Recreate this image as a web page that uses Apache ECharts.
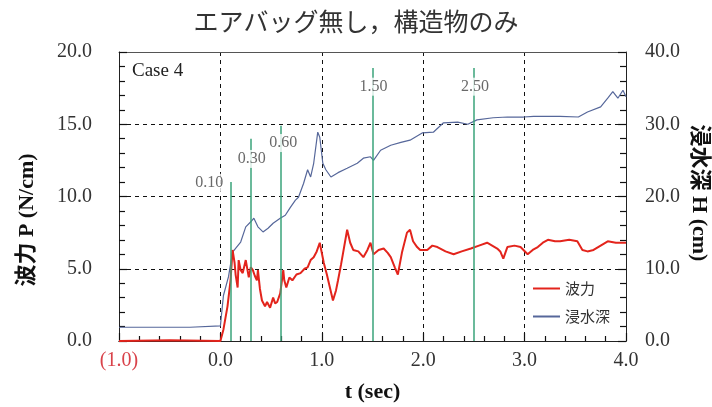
<!DOCTYPE html>
<html>
<head>
<meta charset="utf-8">
<script src="https://cdn.jsdelivr.net/npm/echarts@6/dist/echarts.min.js"></script>
<style>
  html, body { margin: 0; padding: 0; background: #fff; }
  #chart { width: 712px; height: 407px; }
</style>
</head>
<body>
<div id="chart"></div>
<script>
// 波力 (left axis, N/cm) : [t, P]
const forceData = [
  [-1.0, 0.0], [-0.5, 0.05], [0.0, 0.0], [0.03, 0.8], [0.05, 1.6], [0.07, 2.4], [0.10, 4.2], [0.12, 6.3],
  [0.14, 5.4], [0.15, 4.6], [0.17, 3.7], [0.18, 5.6], [0.20, 4.9], [0.22, 4.7], [0.25, 5.6],
  [0.28, 4.4], [0.30, 5.1], [0.32, 4.9], [0.34, 4.5], [0.36, 4.2], [0.37, 4.9], [0.39, 3.6],
  [0.41, 2.8], [0.44, 2.4], [0.46, 2.7], [0.49, 2.3], [0.52, 3.0], [0.54, 2.6], [0.56, 2.7],
  [0.59, 3.3], [0.62, 4.9], [0.63, 4.2], [0.65, 3.7], [0.68, 4.4], [0.71, 4.2], [0.75, 4.6],
  [0.79, 4.7], [0.83, 5.0], [0.86, 5.1], [0.89, 5.6], [0.92, 5.8], [0.95, 6.2], [0.98, 6.8],
  [1.02, 5.4], [1.05, 4.6], [1.07, 4.0], [1.11, 2.8], [1.14, 3.5], [1.16, 4.2], [1.19, 5.3],
  [1.21, 6.1], [1.25, 7.7], [1.28, 6.8], [1.31, 6.3], [1.36, 6.2], [1.41, 5.8], [1.45, 6.3],
  [1.48, 6.8], [1.51, 6.0], [1.56, 6.3], [1.61, 6.4], [1.65, 6.1], [1.68, 5.8], [1.72, 5.1],
  [1.75, 4.6], [1.79, 6.1], [1.84, 7.5], [1.87, 7.7], [1.90, 6.9], [1.94, 6.5], [1.97, 6.3],
  [2.04, 6.3], [2.09, 6.6], [2.14, 6.5], [2.22, 6.2], [2.30, 6.0], [2.38, 6.2], [2.47, 6.4],
  [2.55, 6.6], [2.63, 6.8], [2.68, 6.6], [2.73, 6.4], [2.76, 6.2], [2.79, 5.7], [2.83, 6.5],
  [2.90, 6.6], [2.96, 6.5], [3.03, 6.0], [3.08, 6.3], [3.13, 6.5], [3.18, 6.8], [3.23, 7.0],
  [3.30, 6.9], [3.35, 6.9], [3.44, 7.0], [3.52, 6.9], [3.57, 6.3], [3.62, 6.2], [3.68, 6.3],
  [3.75, 6.6], [3.82, 6.9], [3.90, 6.8], [3.98, 6.8], [4.0, 6.8]
];

// 浸水深 (right axis, cm) : [t, H]
const depthData = [
  [-1.0, 1.9], [-0.3, 1.9], [-0.29, 2.1], [0.0, 2.1], [0.01, 3.5], [0.03, 6.3], [0.08, 8.9],
  [0.12, 12.3], [0.20, 13.7], [0.25, 15.8], [0.30, 16.5], [0.33, 17.0], [0.37, 15.8],
  [0.42, 15.1], [0.47, 15.6], [0.52, 16.3], [0.59, 17.0], [0.64, 17.4], [0.69, 18.5],
  [0.74, 19.5], [0.77, 19.9], [0.82, 21.8], [0.86, 23.7], [0.89, 22.7], [0.92, 24.6],
  [0.96, 28.9], [0.98, 28.2], [1.01, 24.6], [1.04, 23.7], [1.09, 22.7], [1.16, 23.3],
  [1.25, 23.9], [1.35, 24.6], [1.41, 25.3], [1.48, 25.5], [1.51, 25.0], [1.58, 26.4],
  [1.68, 27.1], [1.78, 27.5], [1.87, 27.8], [1.99, 28.8], [2.10, 28.9], [2.20, 30.2],
  [2.34, 30.3], [2.44, 30.0], [2.53, 30.6], [2.69, 30.9], [2.83, 31.0], [2.99, 31.0],
  [3.09, 31.1], [3.35, 31.1], [3.53, 31.0], [3.62, 31.7], [3.75, 32.4], [3.82, 33.6],
  [3.87, 34.5], [3.92, 33.6], [3.97, 34.7], [4.0, 33.8]
];

// 緑の時刻線
const markTimes = [0.10, 0.30, 0.60, 1.50, 2.50];
const markTops = [11.0, 14.0, 14.9, 18.9, 18.9];
const markLabels = ['0.10', '0.30', '0.60', '1.50', '2.50'];
const markLabelPos = [[-0.11, 10.95], [0.31, 12.6], [0.62, 13.7], [1.51, 17.6], [2.51, 17.6]];

const serif = '"Liberation Serif", "Noto Sans CJK JP", serif';
const cjk = '"Noto Sans CJK JP", sans-serif';

const chart = echarts.init(document.getElementById('chart'));

const option = {
  animation: false,
  backgroundColor: '#fff',
  title: {
    text: 'エアバッグ無し，構造物のみ',
    left: 'center',
    top: 4,
    textStyle: { fontFamily: cjk, fontSize: 25, fontWeight: 'normal', color: '#333' }
  },
  grid: {
    left: 119, right: 86, top: 52, bottom: 66,
    outerBoundsMode: 'none'
  },
  legend: {
    orient: 'vertical',
    left: 528, top: 276,
    itemWidth: 27, itemHeight: 2, itemGap: 13,
    textStyle: { fontFamily: cjk, fontSize: 15, color: '#333' },
    data: [{ name: '波力', icon: 'rect' }, { name: '浸水深', icon: 'rect' }]
  },
  xAxis: [
    {
      type: 'value', min: -1, max: 4, interval: 1,
      name: 't (sec)', nameLocation: 'middle', nameGap: 40,
      nameTextStyle: { fontFamily: serif, fontSize: 22, fontWeight: 'bold', color: '#111' },
      axisLine: { show: true, onZero: false, lineStyle: { color: '#222' } },
      axisTick: { show: false },
      axisLabel: {
        margin: 10, fontFamily: serif, fontSize: 20, color: '#333',
        formatter: v => v === -1 ? '{r|(1.0)}' : v.toFixed(1),
        rich: { r: { fontFamily: serif, fontSize: 20, color: '#d9424a' } }
      },
      splitLine: { show: true, showMinLine: false, showMaxLine: false, lineStyle: { color: '#111', type: [4, 4] } }
    },
    {
      // 上枠
      type: 'value', position: 'top', min: -1, max: 4, interval: 1,
      axisLine: { show: true, onZero: false, lineStyle: { color: '#555' } },
      axisTick: { show: false }, axisLabel: { show: false }, splitLine: { show: false }
    },
    {
      // 目盛り専用の下軸
      type: 'value', position: 'bottom', min: -1, max: 4, interval: 1,
      axisLine: { show: true, onZero: false, lineStyle: { color: '#222' } },
      axisTick: { show: true, inside: true, length: 8, lineStyle: { color: '#111', width: 1.2 } },
      minorTick: { show: true, splitNumber: 5, length: 5, lineStyle: { color: '#111', width: 1.2 } },
      axisLabel: { show: false }, splitLine: { show: false }
    }
  ],
  yAxis: [
    {
      type: 'value', min: 0, max: 20, interval: 5,
      axisLine: { show: true, onZero: false, lineStyle: { color: '#222' } },
      axisTick: { show: true, inside: true, length: 8, lineStyle: { color: '#111', width: 1.2 } },
      minorTick: { show: true, splitNumber: 5, length: 6, lineStyle: { color: '#111', width: 1.2 } },
      axisLabel: { margin: 27, fontFamily: serif, fontSize: 20, color: '#333', formatter: v => v.toFixed(1) },
      splitLine: { show: true, showMinLine: false, showMaxLine: false, lineStyle: { color: '#111', type: [4, 4] } }
    },
    {
      type: 'value', min: 0, max: 40, interval: 10,
      axisLine: { show: true, onZero: false, lineStyle: { color: '#222' } },
      axisTick: { show: true, inside: true, length: 8, lineStyle: { color: '#111', width: 1.2 } },
      minorTick: { show: true, splitNumber: 5, length: 6, lineStyle: { color: '#111', width: 1.2 } },
      axisLabel: { margin: 19, fontFamily: serif, fontSize: 20, color: '#333', formatter: v => v.toFixed(1) },
      splitLine: { show: false }
    }
  ],
  graphic: [
    {
      type: 'text', left: 132, top: 62,
      style: { text: 'Case 4', font: '19px "Liberation Serif"', fill: '#222' }
    },
    {
      type: 'text', x: 27, y: 220, rotation: Math.PI / 2,
      style: { text: '波力 P (N/cm)', font: 'bold 22px "Liberation Serif", "Noto Sans CJK JP"', fill: '#111', align: 'center', verticalAlign: 'middle' }
    },
    {
      type: 'text', x: 699, y: 193, rotation: -Math.PI / 2,
      style: { text: '浸水深 H (cm)', font: 'bold 22px "Liberation Serif", "Noto Sans CJK JP"', fill: '#111', align: 'center', verticalAlign: 'middle' }
    }
  ],
  series: [
    {
      name: 'timeMarks', type: 'line', data: [], yAxisIndex: 0, silent: true,
      markLine: {
        symbol: 'none', silent: true, animation: false,
        label: { show: false },
        lineStyle: { color: '#3aa37a', width: 1.5, type: 'solid' },
        data: markTimes.map((t, i) => [{ coord: [t, 0] }, { coord: [t, markTops[i]] }])
      }
    },
    {
      name: '浸水深', type: 'line', yAxisIndex: 1, data: depthData,
      symbol: 'none', lineStyle: { color: '#56679a', width: 1.2 }, itemStyle: { color: '#56679a' }, z: 3
    },
    {
      name: '波力', type: 'line', yAxisIndex: 0, data: forceData,
      symbol: 'none', lineStyle: { color: '#e3241c', width: 2 }, itemStyle: { color: '#e3241c' }, z: 4
    },
    {
      name: 'markLabels', type: 'scatter', yAxisIndex: 0, symbolSize: 0, silent: true, z: 5,
      data: markLabelPos.map((p, i) => ({ value: p, name: markLabels[i] })),
      label: {
        show: true, position: 'inside', formatter: '{b}',
        fontFamily: serif, fontSize: 16, color: '#444',
        backgroundColor: '#fff', padding: [1, 1]
      }
    }
  ]
};

chart.setOption(option);
</script>
</body>
</html>
